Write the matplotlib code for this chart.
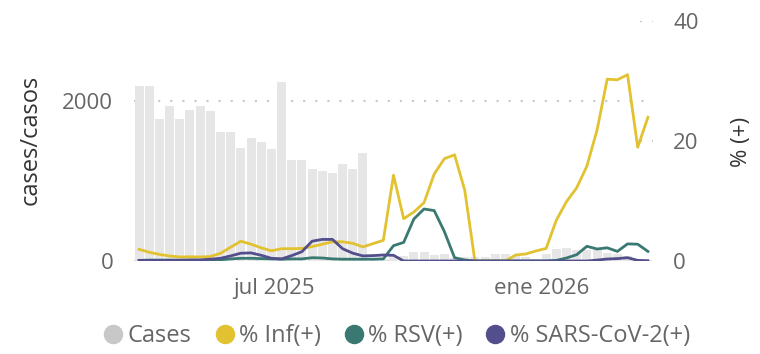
import matplotlib.pyplot as plt
from matplotlib.lines import Line2D
import pandas as pd

plt.rcParams['font.family'] = ['Open Sans', 'DejaVu Sans']

# weekly surveillance data
weeks = pd.date_range('2025-03-30', periods=51, freq='7D')

cases = [2190, 2190, 1775, 1935, 1775, 1890, 1935, 1875, 1610, 1610,
         1410, 1535, 1485, 1395, 2240, 1260, 1260, 1145, 1120, 1105,
         1210, 1155, 1345, 10, 25, 59, 63, 108, 112, 80,
         88, 38, 46, 47, 46, 88, 88, 60, 46, 29,
         88, 150, 163, 136, 140, 140, 100, 88, 59, 29, 12]

pct_inf = [1.95, 1.45, 1.1, 0.83, 0.67, 0.7, 0.67, 0.75, 1.28, 2.3,
           3.3, 2.8, 2.2, 1.7, 2.05, 2.05, 2.1, 2.4, 2.8, 3.2,
           3.2, 2.95, 2.35, 2.9, 3.45, 14.3, 7.05, 8.17, 9.72, 14.5,
           17.05, 17.7, 11.8, 0, 0, 0, 0, 1.0, 1.17, 1.67,
           2.1, 6.8, 9.9, 12.2, 15.8, 21.8, 30.3, 30.2, 31.05, 18.95, 23.95]

pct_rsv = [0.1, 0.15, 0.15, 0.15, 0.15, 0.15, 0.15, 0.2, 0.2, 0.35,
           0.45, 0.45, 0.4, 0.35, 0.3, 0.35, 0.35, 0.55, 0.5, 0.35,
           0.3, 0.3, 0.3, 0.3, 0.35, 2.55, 3.1, 7.0, 8.67, 8.4,
           4.9, 0.55, 0.17, 0, 0, 0, 0, 0, 0, 0,
           0, 0.1, 0.5, 1.05, 2.45, 2.0, 2.2, 1.6, 2.85, 2.8, 1.6]

pct_sars = [0.1, 0.1, 0.1, 0.1, 0.1, 0.15, 0.15, 0.3, 0.45, 0.85,
            1.3, 1.35, 0.95, 0.45, 0.35, 0.9, 1.55, 3.3, 3.6, 3.6,
            2.05, 1.3, 0.85, 0.9, 1.0, 0.95, 0, 0, 0, 0,
            0, 0, 0, 0, 0, 0, 0, 0, 0, 0,
            0, 0, 0, 0, 0, 0.15, 0.33, 0.4, 0.55, 0.1, 0.05]

c_bar = '#E6E6E6'
c_bar_leg = '#C8C8C8'
c_inf = '#E2C230'
c_rsv = '#3A7872'
c_sars = '#524F8C'
c_tick = '#666666'
c_title = '#333333'
c_grid = '#C8C8C8'

fig = plt.figure(figsize=(7.6, 3.54), dpi=100)
ax = fig.add_axes([134 / 760, 1 - 261 / 354, 519 / 760, 240 / 354])
ax2 = ax.twinx()

ax.bar(weeks, cases, width=6.2, color=c_bar, zorder=2)
ax.set_ylim(0, 3000)
ax.set_yticks([0, 2000])
for v in [0, 2000]:
    ax.axhline(v, color=c_grid, lw=1.5, ls=(0, (1, 4.8)), zorder=1)

ax2.plot(weeks, pct_inf, color=c_inf, lw=2, zorder=3)
ax2.plot(weeks, pct_rsv, color=c_rsv, lw=2, zorder=4)
ax2.plot(weeks, pct_sars, color=c_sars, lw=2, zorder=5)
ax2.set_ylim(0, 40)
ax2.set_yticks([0, 20, 40])
for v in [20, 40]:
    ax2.axhline(v, xmin=0.975, xmax=1.0, color=c_grid, lw=1.5, ls=(0, (1, 4.8)))

ax.set_xlim(weeks[0] - pd.Timedelta(days=3.5), weeks[-1] + pd.Timedelta(days=3.5))
ax.set_xticks([pd.Timestamp('2025-07-01'), pd.Timestamp('2026-01-01')])
ax.set_xticklabels(['jul 2025', 'ene 2026'])

for a in (ax, ax2):
    for s in a.spines.values():
        s.set_visible(False)
    a.tick_params(length=0, labelsize=16, labelcolor=c_tick)
ax.tick_params(axis='y', pad=15)
ax2.tick_params(axis='y', pad=14.5)
ax.tick_params(axis='x', pad=12)

fig.text(31 / 760, 1 - 140 / 354, 'cases/casos', rotation=90, fontsize=17,
         color=c_title, ha='center', va='center')
fig.text(741 / 760, 1 - 142 / 354, '% (+)', rotation=90, fontsize=16,
         color=c_title, ha='center', va='center')

handles = [Line2D([], [], ls='none', marker='o', ms=13, color=c)
           for c in (c_bar_leg, c_inf, c_rsv, c_sars)]
labels = ['Cases', '% Inf(+)', '% RSV(+)', '% SARS-CoV-2(+)']
fig.legend(handles, labels, loc='center', bbox_to_anchor=(398 / 760, 1 - 336 / 354),
           ncol=4, frameon=False, fontsize=17, labelcolor=c_tick,
           handlelength=0.6, handletextpad=0.3, columnspacing=1.1)

fig.savefig('out.png', dpi=100)
